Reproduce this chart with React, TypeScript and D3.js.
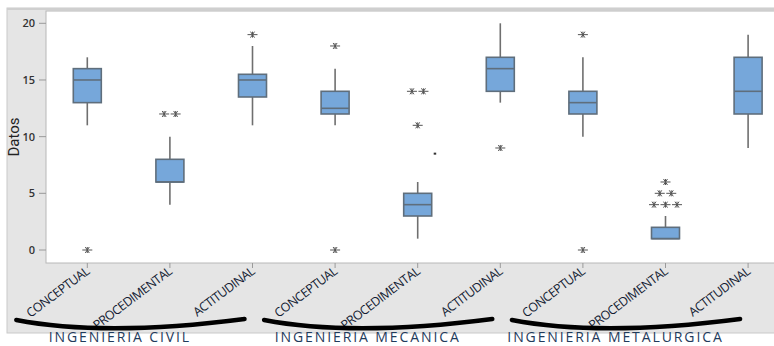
import React from 'react'
import * as d3 from 'd3'

const GROUPS = ['INGENIERIA CIVIL', 'INGENIERIA MECANICA', 'INGENIERIA METALURGICA']
const CATEGORIES = ['CONCEPTUAL', 'PROCEDIMENTAL', 'ACTITUDINAL']
const Y_TICKS = [0, 5, 10, 15, 20]

// one entry per box, in order civil / mecanica / metalurgica
const WHISKER_LOW = [11, 4, 11, 11, 1, 13, 10, 1, 9]
const Q1 = [13, 6, 13.5, 12, 3, 14, 12, 1, 12]
const MEDIAN = [15, 6, 15, 12.5, 4, 16, 13, 1, 14]
const Q3 = [16, 8, 15.5, 14, 5, 17, 14, 2, 17]
const WHISKER_HIGH = [17, 10, 18, 16, 6, 20, 17, 3, 19]
const OUTLIERS = [[0], [12, 12], [19], [18, 0], [14, 14, 11], [9], [19, 0], [6, 5, 5, 4, 4, 4], []]
const STRAY = [{ box: 4, value: 8.5 }]

const W = 774
const H = 346
const plot = { left: 46, top: 11, bottom: 263 }

const keys = GROUPS.flatMap(g => CATEGORIES.map(c => `${g}|${c}`))

const App = () => {
  const x = d3.scaleBand().domain(keys).range([plot.left, plot.left + 9 * 82.6]).padding(0)
  const cx = (i: number) => (x(keys[i]) as number) + x.bandwidth() / 2
  const y = d3.scaleLinear().domain([0, 20]).range([250, 23.3])
  const boxW = 28

  const boxes = keys.map((k, i) => {
    const c = cx(i)
    // repeated values go side by side
    const counts: Record<number, number> = {}
    OUTLIERS[i].forEach(v => { counts[v] = (counts[v] || 0) + 1 })
    const seen: Record<number, number> = {}
    const stars = OUTLIERS[i].map((v, j) => {
      const n = counts[v]
      const idx = seen[v] = (seen[v] ?? -1) + 1
      const dx = (idx - (n - 1) / 2) * 11.5
      return (
        <path key={j} transform={`translate(${c + dx},${y(v)})`}
          d="M-5,0H5M-2,-3L2,3M2,-3L-2,3M0,-3V3" stroke="#555" strokeWidth={1} fill="none" />
      )
    })
    return (
      <g key={k}>
        <line x1={c} x2={c} y1={y(WHISKER_HIGH[i])} y2={y(Q3[i])} stroke="#6f6f6f" strokeWidth={1.6} />
        <line x1={c} x2={c} y1={y(Q1[i])} y2={y(WHISKER_LOW[i])} stroke="#6f6f6f" strokeWidth={1.6} />
        <rect x={c - boxW / 2} y={y(Q3[i])} width={boxW} height={y(Q1[i]) - y(Q3[i])}
          fill="#76a7da" stroke="#5f6e7c" strokeWidth={1.6} />
        <line x1={c - boxW / 2} x2={c + boxW / 2} y1={y(MEDIAN[i])} y2={y(MEDIAN[i])} stroke="#5f6e7c" strokeWidth={1.6} />
        {stars}
      </g>
    )
  })

  const arcs = GROUPS.map((g, gi) => {
    const first = cx(gi * 3)
    const last = cx(gi * 3 + 2)
    const x0 = first - 71
    const x1 = last - 8
    const xm = first + 18
    const yEnd = 320
    return (
      <path key={g} d={`M${x0},${yEnd} Q${xm},${337} ${x1},${yEnd - 1}`}
        fill="none" stroke="#000" strokeWidth={4.5} strokeLinecap="round" />
    )
  })

  const groupLabels = GROUPS.map((g, gi) => {
    const mid = cx(gi * 3 + 1)
    return (
      <text key={g} x={mid - 50} y={342} textAnchor="middle" fontSize={14} fill="#1f3b5c"
        fontFamily="'Open Sans', 'Liberation Sans', sans-serif" letterSpacing={1.9}>{g}</text>
    )
  })

  return (
    <svg width={W} height={H} style={{ position: 'absolute', left: 0, top: 0 }}>
      <rect x={0} y={0} width={W} height={H} fill="#fff" />
      <rect x={7} y={8} width={W} height={325} fill="#e5e5e5" stroke="#c9c9c9" strokeWidth={1} />
      <line x1={7} x2={W} y1={9} y2={9} stroke="#cfcfcf" strokeWidth={2} />
      <rect x={plot.left} y={plot.top} width={W} height={plot.bottom - plot.top} fill="#fff" stroke="#b8b8b8" strokeWidth={1} />

      {Y_TICKS.map(t => (
        <g key={t}>
          <line x1={39} x2={plot.left} y1={y(t)} y2={y(t)} stroke="#9a9a9a" />
          <text x={35} y={y(t)} dy="0.35em" textAnchor="end" fontSize={11} fontWeight={600}
            fill="#333" fontFamily="'Open Sans', sans-serif">{t}</text>
        </g>
      ))}
      <text transform={`translate(19,137) rotate(-90)`} textAnchor="middle" fontSize={15}
        fill="#222" fontFamily="'Liberation Sans Narrow', 'Roboto', sans-serif">Datos</text>

      {keys.map((k, i) => (
        <g key={k} transform={`translate(${cx(i)},${plot.bottom})`}>
          <line y1={0} y2={5} stroke="#9a9a9a" />
          <text transform="translate(3,10) rotate(-37)" textAnchor="end" fontSize={12.5}
            fill="#141c33" fontFamily="'Open Sans', sans-serif" letterSpacing={-0.5}>{CATEGORIES[i % 3]}</text>
        </g>
      ))}

      {boxes}
      {STRAY.map((s, i) => (
        <rect key={i} x={cx(s.box) + 16} y={y(s.value) - 1} width={2.5} height={2} fill="#333" />
      ))}

      {arcs}
      {groupLabels}
    </svg>
  )
}

export default App
